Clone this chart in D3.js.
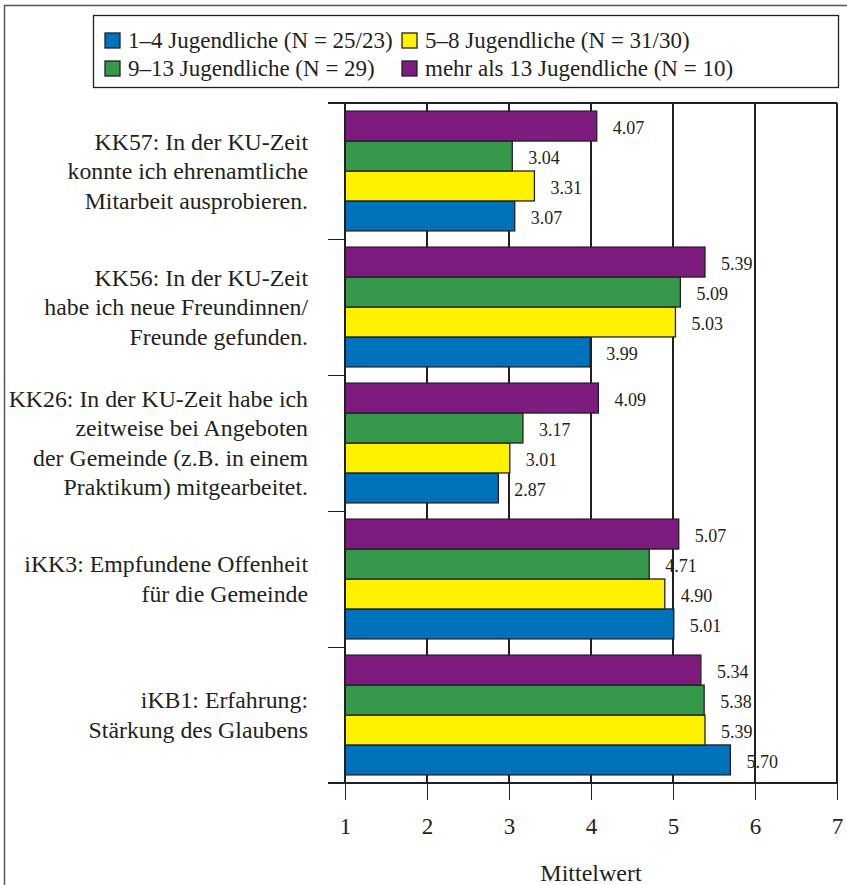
<!DOCTYPE html>
<meta charset="utf-8">
<style> /* set the CSS */

body {
    margin: 0;
    background: white;
}
text {
    font-family: "Liberation Serif", "Times New Roman", serif;
    fill: #231f20;
}
.bar-blue { fill: #0072bc; }
.bar-yellow { fill: #fff200; }
.bar-green { fill: #36984a; }
.bar-purple { fill: #7d1b7e; }

.bar {
    stroke: #231f20;
    stroke-width: 1.3px;
}
.bar-text {
    font-size: 18px;
}
.cat-text {
    font-size: 23.8px;
}
.legend-text {
    font-size: 23px;
}
.grid line, .frame {
    stroke: #231f20;
    stroke-width: 1.3px;
    shape-rendering: crispEdges;
}
.axis path { display: none; }
.axis line {
    stroke: #231f20;
    stroke-width: 1.3px;
    shape-rendering: crispEdges;
}
.axis text {
    font-family: "Liberation Serif", "Times New Roman", serif;
    font-size: 23px;
    fill: #231f20;
}
.outer {
    stroke: #555;
    stroke-width: 1.5px;
    fill: none;
}
</style>
<body>

<!-- load the d3.js library -->
<script src="https://d3js.org/d3.v7.min.js"></script>
<script>

    // categories, each split in the lines shown in the chart
    var categories = [
        ["KK57: In der KU-Zeit", "konnte ich ehrenamtliche", "Mitarbeit ausprobieren."],
        ["KK56: In der KU-Zeit", "habe ich neue Freundinnen/", "Freunde gefunden."],
        ["KK26: In der KU-Zeit habe ich", "zeitweise bei Angeboten", "der Gemeinde (z.B. in einem", "Praktikum) mitgearbeitet."],
        ["iKK3: Empfundene Offenheit", "für die Gemeinde"],
        ["iKB1: Erfahrung:", "Stärkung des Glaubens"]
    ];

    var seriesNames = [
        "1–4 Jugendliche (N = 25/23)",
        "5–8 Jugendliche (N = 31/30)",
        "9–13 Jugendliche (N = 29)",
        "mehr als 13 Jugendliche (N = 10)"
    ];
    var seriesClasses = ["bar-blue", "bar-yellow", "bar-green", "bar-purple"];

    // mean values per category
    var values1to4   = [3.07, 3.99, 2.87, 5.01, 5.70];
    var values5to8   = [3.31, 5.03, 3.01, 4.90, 5.39];
    var values9to13  = [3.04, 5.09, 3.17, 4.71, 5.38];
    var valuesOver13 = [4.07, 5.39, 4.09, 5.07, 5.34];
    var seriesValues = [values1to4, values5to8, values9to13, valuesOver13];

    var xTicks = [1, 2, 3, 4, 5, 6, 7];

    // set the dimensions and margins of the graph
    var margin = {top: 103, right: 10, bottom: 102, left: 345},
            width = 847 - margin.left - margin.right,
            height = 885 - margin.top - margin.bottom;

    // set the ranges
    var x = d3.scaleLinear().domain([1, 7]).range([0, width]);
    var y = d3.scaleBand().domain(d3.range(categories.length)).range([0, height]);
    // purple on top, blue at the bottom
    var ySeries = d3.scaleBand().domain([3, 2, 1, 0])
            .range([0, y.bandwidth()]).paddingOuter(0.27);

    var root = d3.select("body").append("svg")
            .attr("width", 847)
            .attr("height", 885);

    // outer frame (cut by the page)
    root.append("path")
            .attr("class", "outer")
            .attr("d", "M4.5,900V5.5H860");

    var svg = root.append("g")
            .attr("transform", "translate(" + margin.left + "," + margin.top + ")");

    // vertical grid lines
    svg.append("g")
            .attr("class", "grid")
            .selectAll("line")
            .data(xTicks)
            .enter().append("line")
            .attr("x1", function(d) { return x(d); })
            .attr("x2", function(d) { return x(d); })
            .attr("y1", 0)
            .attr("y2", height);

    // top frame line
    svg.append("line")
            .attr("class", "frame")
            .attr("x1", -17).attr("x2", x(7))
            .attr("y1", 0).attr("y2", 0);

    // flatten the data
    var bars = [];
    categories.forEach(function(c, i) {
        seriesValues.forEach(function(vals, s) {
            bars.push({cat: i, series: s, value: vals[i]});
        });
    });

    // append the rectangles for the bar chart
    svg.selectAll(".bar")
            .data(bars)
            .enter().append("rect")
            .attr("class", function(d) { return "bar " + seriesClasses[d.series]; })
            .attr("x", x(1))
            .attr("width", function(d) { return x(d.value) - x(1); })
            .attr("y", function(d) { return y(d.cat) + ySeries(d.series); })
            .attr("height", ySeries.bandwidth());

    svg.selectAll(".bar-text")
            .data(bars)
            .enter().append("text")
            .attr("class", "bar-text")
            .attr("x", function(d) { return x(d.value) + 16; })
            .attr("y", function(d) { return y(d.cat) + ySeries(d.series) + ySeries.bandwidth() / 2 + 8; })
            .text(function(d) { return d3.format(".2f")(d.value); });

    // Add the Y Axis (category boundaries)
    svg.append("g")
            .attr("class", "axis")
            .call(d3.axisLeft(d3.scaleLinear().domain([0, categories.length]).range([0, height]))
                    .ticks(categories.length).tickSize(17).tickFormat(""));
    svg.append("line")
            .attr("class", "frame")
            .attr("x1", 0).attr("x2", 0)
            .attr("y1", 0).attr("y2", height);

    // category labels
    var lineHeight = 29.5;
    var catText = svg.append("g").selectAll(".cat-text")
            .data(categories)
            .enter().append("text")
            .attr("class", "cat-text")
            .attr("text-anchor", "end")
            .attr("transform", function(d, i) {
                var cy = y(i) + y.bandwidth() / 2 - (d.length - 1) * lineHeight / 2;
                return "translate(-37," + cy + ")";
            });
    catText.selectAll("tspan")
            .data(function(d) { return d; })
            .enter().append("tspan")
            .attr("x", 0)
            .attr("y", function(d, i) { return i * lineHeight + 8; })
            .text(function(d) { return d; });

    // Add the X Axis
    var xAxis = svg.append("g")
            .attr("class", "axis")
            .attr("transform", "translate(0," + height + ")")
            .call(d3.axisBottom(x).tickValues(xTicks).tickSize(17).tickPadding(18)
                    .tickFormat(d3.format("d")));
    xAxis.append("line")
            .attr("x1", -17).attr("x2", x(7))
            .attr("y1", 0).attr("y2", 0);

    svg.append("text")
            .attr("text-anchor", "middle")
            .attr("x", width / 2)
            .attr("y", height + 98)
            .style("font-size", "24px")
            .text("Mittelwert");

    // legend
    var legend = root.append("g");
    legend.append("rect")
            .attr("x", 93.5).attr("y", 15.5)
            .attr("width", 745).attr("height", 72)
            .attr("fill", "white")
            .attr("stroke", "#231f20")
            .attr("stroke-width", 1.3);

    var legendOrder = [0, 1, 2, 3];
    var item = legend.selectAll(".legend-item")
            .data(legendOrder)
            .enter().append("g")
            .attr("transform", function(d, i) {
                return "translate(" + (105 + (i % 2) * 297) + "," + (33 + Math.floor(i / 2) * 28) + ")";
            });
    item.append("rect")
            .attr("class", function(d) { return "bar " + seriesClasses[d]; })
            .attr("width", 15).attr("height", 15);
    item.append("text")
            .attr("class", "legend-text")
            .attr("x", 23)
            .attr("y", 15)
            .text(function(d) { return seriesNames[d]; });

</script>
</body>
